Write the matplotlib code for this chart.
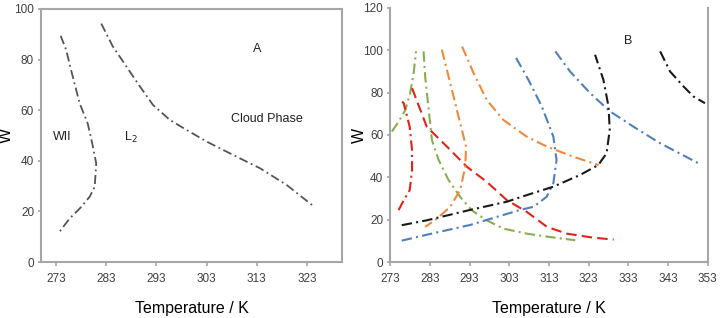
import matplotlib
matplotlib.use("Agg")
import matplotlib.pyplot as plt

# ---- Panel A data ----
wii_T = [273.9, 275.0, 275.8, 277.7, 279.3, 280.2, 281.0, 280.7, 279.7, 277.7, 275.7, 273.5]
wii_W = [89.4, 83.9, 77.3, 62.7, 54.8, 46.9, 39.0, 29.7, 25.8, 21.1, 17.2, 11.5]
cloud_T = [282.0, 284.3, 287.0, 289.7, 292.3, 295.7, 299.0, 303.0, 308.3, 313.7, 319.0, 324.3]
cloud_W = [94.2, 85.2, 77.3, 69.4, 62.1, 56.1, 52.2, 47.6, 42.3, 37.0, 30.4, 22.1]
xticks_a = [273, 283, 293, 303, 313, 323]
yticks_a = [0, 20, 40, 60, 80, 100]

# ---- Panel B data ----
green1_T = [273.4, 275.1, 276.8, 278.0, 278.9, 279.5]
green1_W = [61.6, 66.3, 71.8, 79.7, 89.2, 99.5]
green2_T = [281.4, 281.8, 282.7, 283.5, 285.2, 287.7, 290.6, 293.5, 297.3, 301.5, 307.4, 313.3, 319.6]
green2_W = [99.5, 87.6, 71.8, 57.6, 48.2, 38.7, 30.8, 24.5, 19.7, 15.8, 13.4, 11.8, 10.3]
red1_T = [275.1, 276.4, 277.9, 278.5, 278.5, 277.9, 276.4, 276.0]
red1_W = [24.5, 29.2, 33.9, 43.4, 52.9, 63.9, 75.0, 75.8]
red2_T = [278.5, 282.2, 287.3, 292.3, 297.3, 302.4, 307.4, 312.5, 317.5, 324.2, 329.3]
red2_W = [82.1, 63.9, 54.5, 45.0, 37.9, 29.2, 23.7, 16.6, 13.4, 11.5, 10.6]
orange1_T = [286.0, 287.7, 289.8, 292.1, 291.9, 290.6, 288.1, 284.8, 281.8]
orange1_W = [100.3, 87.6, 71.8, 54.5, 45.0, 33.9, 26.1, 20.5, 16.6]
orange2_T = [291.1, 294.0, 297.3, 301.5, 307.4, 312.5, 319.2, 325.5]
orange2_W = [101.8, 89.2, 76.6, 67.1, 59.2, 54.5, 49.7, 45.8]
blue1_T = [275.9, 282.2, 293.1, 305.7, 309.1, 312.4, 314.1, 314.9, 314.1, 311.2, 307.8, 304.5]
blue1_W = [10.1, 12.9, 17.5, 24.6, 26.1, 30.8, 37.2, 48.2, 59.2, 73.4, 86.1, 97.1]
blue2_T = [314.6, 318.3, 323.4, 328.4, 334.3, 341.0, 350.7]
blue2_W = [99.5, 90.0, 79.7, 71.1, 63.9, 56.1, 46.6]
black1_T = [275.9, 282.2, 293.1, 302.4, 307.4, 314.1, 320.8, 325.4, 327.5, 328.3, 328.0, 326.7, 324.6]
black1_W = [17.4, 19.7, 24.6, 28.5, 31.6, 35.6, 41.1, 45.8, 51.3, 62.4, 73.4, 86.1, 97.9]
black2_T = [341.0, 343.5, 346.9, 349.4, 352.3]
black2_W = [99.5, 90.0, 82.9, 78.2, 75.0]
xticks_b = [273, 283, 293, 303, 313, 323, 333, 343, 353]
yticks_b = [0, 20, 40, 60, 80, 100, 120]

GRAY = "#555555"
GREEN = "#86b04e"
RED = "#e2231a"
ORANGE = "#ee8a3c"
BLUE = "#4f7fbd"
BLACK = "#1a1a1a"
SPINE = "#a6a6a6"
TICKFONT = ["Liberation Sans Narrow", "Liberation Sans", "DejaVu Sans"]
LABFONT = ["Liberation Sans", "DejaVu Sans"]

fig = plt.figure(figsize=(7.2, 3.18), dpi=100)
axA = fig.add_axes([0.057, 0.176, 0.418, 0.796])
axB = fig.add_axes([0.542, 0.176, 0.441, 0.799])

def style(ax, spines_on):
    for s, sp in ax.spines.items():
        sp.set_color(SPINE)
        sp.set_linewidth(1.5)
        sp.set_visible(s in spines_on)
    ax.tick_params(axis="x", colors=SPINE, labelcolor="#404040", length=3, width=1.2, pad=5)
    ax.tick_params(axis="y", colors=SPINE, labelcolor="#404040", length=2, width=1.2, pad=3)
    for lbl in ax.get_xticklabels() + ax.get_yticklabels():
        lbl.set_family(TICKFONT)
        lbl.set_fontsize(8.5)

dd = (0, (5, 2, 1, 2))
# Panel A
axA.plot(wii_T, wii_W, color=GRAY, lw=1.3, linestyle=dd)
axA.plot(cloud_T, cloud_W, color=GRAY, lw=1.3, linestyle=dd)
axA.set_xlim(270, 330)
axA.set_ylim(0, 100)
axA.set_xticks(xticks_a)
axA.set_yticks(yticks_a)
axA.text(313, 84.3, "A", ha="center", va="center", fontsize=9, family=LABFONT, color="#222222")
axA.text(315, 56.5, "Cloud Phase", ha="center", va="center", fontsize=9, family=LABFONT, color="#222222")
axA.text(274.2, 49.3, "WII", ha="center", va="center", fontsize=9, family=LABFONT, color="#222222")
axA.text(288, 49.3, "L$_2$", ha="center", va="center", fontsize=9, family=LABFONT, color="#222222")
axA.set_xlabel("Temperature / K", fontsize=11.5, family=LABFONT)
axA.xaxis.set_label_coords(0.5, -0.155)
axA.set_ylabel("W", fontsize=11.5, family=LABFONT)
axA.yaxis.set_label_coords(-0.09, 0.5)
style(axA, ["left", "bottom", "right", "top"])

# Panel B
lw = 1.5
axB.plot(green1_T, green1_W, color=GREEN, lw=lw, linestyle=dd)
axB.plot(green2_T, green2_W, color=GREEN, lw=lw, linestyle=dd)
axB.plot(red1_T, red1_W, color=RED, lw=lw, linestyle=dd)
axB.plot(red2_T, red2_W, color=RED, lw=lw, linestyle=(0, (5, 2.5)))
axB.plot(orange1_T, orange1_W, color=ORANGE, lw=lw, linestyle=dd)
axB.plot(orange2_T, orange2_W, color=ORANGE, lw=lw, linestyle=dd)
axB.plot(blue1_T, blue1_W, color=BLUE, lw=lw, linestyle=dd)
axB.plot(blue2_T, blue2_W, color=BLUE, lw=lw, linestyle=dd)
axB.plot(black1_T, black1_W, color=BLACK, lw=lw, linestyle=dd)
axB.plot(black2_T, black2_W, color=BLACK, lw=lw, linestyle=dd)
axB.set_xlim(273, 353)
axB.set_ylim(0, 120)
axB.set_xticks(xticks_b)
axB.set_yticks(yticks_b)
axB.text(333, 104.2, "B", ha="center", va="center", fontsize=9, family=LABFONT, color="#222222")
axB.set_xlabel("Temperature / K", fontsize=11.5, family=LABFONT)
axB.xaxis.set_label_coords(0.5, -0.155)
axB.set_ylabel("W", fontsize=11.5, family=LABFONT)
axB.yaxis.set_label_coords(-0.072, 0.5)
style(axB, ["left", "bottom", "right"])

fig.savefig("out.png", dpi=100)
